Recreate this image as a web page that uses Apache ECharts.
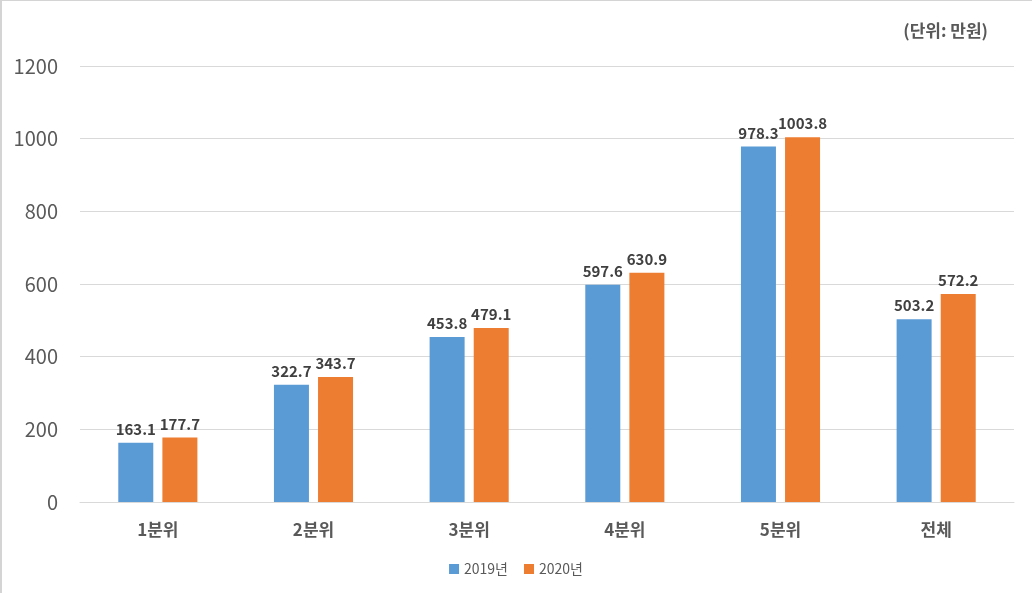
<!DOCTYPE html>
<html><head><meta charset="utf-8">
<script src="https://cdn.jsdelivr.net/npm/echarts@6/dist/echarts.min.js"></script>
<style>
html,body{margin:0;padding:0;background:#fff;}
#c{width:1032px;height:593px;position:absolute;left:0;top:0;}
#b{position:absolute;left:0;top:0;width:1030px;height:592px;border-left:2px solid #d4d4d4;border-top:1px solid #d4d4d4;pointer-events:none;}
</style></head>
<body>
<div id="c"></div><div id="b"></div>
<script>
const categories = ['1분위','2분위','3분위','4분위','5분위','전체'];
const seriesNames = ['2019년','2020년'];
const values2019 = [163.1, 322.7, 453.8, 597.6, 978.3, 503.2];
const values2020 = [177.7, 343.7, 479.1, 630.9, 1003.8, 572.2];
const unitText = '(단위: 만원)';

const font = '"Noto Sans CJK KR", "Noto Sans", sans-serif';
const chart = echarts.init(document.getElementById('c'));
const labelCfg = {show:true, position:'top', distance:6, color:'#404040', fontWeight:'bold', fontSize:15, fontFamily:font};
chart.setOption({
  animation:false,
  textStyle:{fontFamily:font},
  graphic:[{type:'text', right:44, top:22, style:{text:unitText, fill:'#595959', font:'bold 17px ' + font}}],
  legend:{bottom:12, left:'center', itemWidth:10, itemHeight:10, itemGap:16, icon:'rect',
    textStyle:{color:'#595959', fontSize:14, fontFamily:font}},
  grid:{left:80, right:18, top:66, bottom:91},
  xAxis:{type:'category', data:categories,
    axisLine:{lineStyle:{color:'#d9d9d9'}}, axisTick:{show:false},
    axisLabel:{color:'#595959', fontSize:17, fontWeight:'bold', margin:19, fontFamily:font}},
  yAxis:{type:'value', min:0, max:1200, interval:200,
    axisLine:{show:false}, axisTick:{show:false},
    splitLine:{lineStyle:{color:'#d9d9d9'}},
    axisLabel:{color:'#595959', fontSize:20, margin:22, fontFamily:font, formatter:v => String(v)}},
  series:[
    {name:seriesNames[0], type:'bar', data:values2019, barWidth:35, barGap:'26%', itemStyle:{color:'#5B9BD5'}, label:labelCfg},
    {name:seriesNames[1], type:'bar', data:values2020, barWidth:35, barGap:'26%', itemStyle:{color:'#ED7D31'}, label:labelCfg}
  ]
});
</script>
</body></html>
